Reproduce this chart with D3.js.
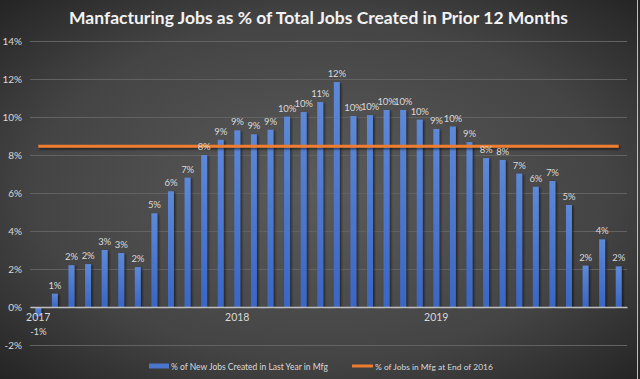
<!DOCTYPE html>
<html>
<head>
<meta charset="utf-8">
<script src="https://cdn.jsdelivr.net/npm/d3@7"></script>
<style>
  html, body { margin: 0; padding: 0; background: #2a2a2a; }
  svg { display: block; }
</style>
</head>
<body>
<svg id="chart" width="640" height="379"></svg>
<script>
// ---- data ----
const months = [
  "2017-01","2017-02","2017-03","2017-04","2017-05","2017-06","2017-07","2017-08","2017-09","2017-10","2017-11","2017-12",
  "2018-01","2018-02","2018-03","2018-04","2018-05","2018-06","2018-07","2018-08","2018-09","2018-10","2018-11","2018-12",
  "2019-01","2019-02","2019-03","2019-04","2019-05","2019-06","2019-07","2019-08","2019-09","2019-10","2019-11","2019-12"
];
const mfgShareNewJobs = [
  -0.5, 0.7, 2.2, 2.26, 3.0, 2.84, 2.1, 4.93, 6.09, 6.81, 8.0, 8.8,
  9.3, 9.09, 9.33, 10.02, 10.26, 10.79, 11.84, 10.05, 10.1, 10.37, 10.37, 9.86,
  9.37, 9.5, 8.68, 7.84, 7.74, 7.02, 6.33, 6.63, 5.37, 2.18, 3.56, 2.14
];
const mfgShareEnd2016 = 8.46;
const yTicks = [-2, 0, 2, 4, 6, 8, 10, 12, 14];
const xTickLabels = { "2017-01": "2017", "2018-01": "2018", "2019-01": "2019" };
const titleText = "Manfacturing Jobs as % of Total Jobs Created in Prior 12 Months";
const seriesNames = ["% of New Jobs Created in Last Year in Mfg", "% of Jobs in Mfg at End of 2016"];

// ---- layout ----
const W = 640, H = 379;
const plot = { left: 30, right: 627, top: 41, bottom: 345 };
const FONT = "Lato, 'Open Sans', sans-serif";
const txt = "#d9d9d9";

const svg = d3.select("#chart");
const defs = svg.append("defs");

const bg = defs.append("radialGradient").attr("id", "bg")
  .attr("cx", "50%").attr("cy", "50%").attr("r", "75%");
bg.append("stop").attr("offset", "0%").attr("stop-color", "#5b5b5b");
bg.append("stop").attr("offset", "60%").attr("stop-color", "#444444");
bg.append("stop").attr("offset", "100%").attr("stop-color", "#1f1f1f");

const barGrad = defs.append("linearGradient").attr("id", "barGrad")
  .attr("x1", "0").attr("y1", "0").attr("x2", "0").attr("y2", "1");
barGrad.append("stop").attr("offset", "0%").attr("stop-color", "#5d89d8");
barGrad.append("stop").attr("offset", "100%").attr("stop-color", "#3a66c4");

const shadow = defs.append("filter").attr("id", "shadow")
  .attr("x", "-50%").attr("y", "-10%").attr("width", "200%").attr("height", "120%");
shadow.append("feDropShadow").attr("dx", 1.5).attr("dy", 1).attr("stdDeviation", 0.8)
  .attr("flood-color", "#000").attr("flood-opacity", 0.55);

const lineShadow = defs.append("filter").attr("id", "lineShadow")
  .attr("filterUnits", "userSpaceOnUse")
  .attr("x", 0).attr("y", 0).attr("width", W).attr("height", H);
lineShadow.append("feDropShadow").attr("dx", 1).attr("dy", 1.5).attr("stdDeviation", 0.8)
  .attr("flood-color", "#000").attr("flood-opacity", 0.6);

svg.append("rect").attr("width", W).attr("height", H).attr("fill", "url(#bg)");
svg.append("line").attr("x1", W - 2.5).attr("x2", W - 2.5).attr("y1", 0).attr("y2", H)
  .attr("stroke", "#bfbfbf").attr("stroke-width", 1);

// ---- scales ----
const x = d3.scaleBand().domain(months).range([plot.left, plot.right])
  .paddingInner(0.64).paddingOuter(0.32);
const y = d3.scaleLinear().domain([-2, 14]).range([plot.bottom, plot.top]);

// gridlines
const yAxis = d3.axisLeft(y).tickValues(yTicks).tickSize(-(plot.right - plot.left))
  .tickFormat(d => d + "%").tickPadding(8);
const gy = svg.append("g").attr("transform", `translate(${plot.left},0)`).call(yAxis);
gy.select(".domain").remove();
gy.selectAll(".tick line").attr("stroke", "#626262").attr("stroke-width", 1);
gy.selectAll(".tick text").attr("fill", txt).attr("font-family", FONT).attr("font-size", 10);

// bars
const data = months.map((m, i) => ({ m, v: mfgShareNewJobs[i] }));
svg.append("g").selectAll("rect").data(data).join("rect")
  .attr("x", d => x(d.m))
  .attr("width", x.bandwidth())
  .attr("y", d => y(Math.max(0, d.v)))
  .attr("height", d => Math.abs(y(d.v) - y(0)))
  .attr("fill", "url(#barGrad)")
  .attr("filter", "url(#shadow)");

// zero axis line
const xAxis = d3.axisBottom(x).tickSize(0).tickPadding(7)
  .tickFormat(d => xTickLabels[d] || "");
const gx = svg.append("g").attr("transform", `translate(0,${y(0)})`).call(xAxis);
gx.select(".domain").attr("stroke", "#bfbfbf").attr("stroke-width", 1.5);
gx.selectAll(".tick text").attr("fill", txt).attr("font-family", FONT).attr("font-size", 10.5);

// reference line
const lineGen = d3.line().x(d => x(d) + x.bandwidth() / 2).y(() => y(mfgShareEnd2016));
svg.append("path").datum([months[0], months[months.length - 1]])
  .attr("d", lineGen).attr("stroke", "#ed7d31").attr("stroke-width", 3)
  .attr("fill", "none").attr("filter", "url(#lineShadow)");

// data labels
const fmt = v => (v < 0 ? "-" : "") + Math.round(Math.abs(v)) + "%";
svg.append("g").selectAll("text").data(data).join("text")
  .attr("x", d => x(d.m) + x.bandwidth() / 2)
  .attr("y", d => d.v >= 0 ? y(d.v) - 5 : y(d.v) + 18)
  .attr("text-anchor", "middle")
  .attr("fill", txt).attr("font-family", FONT).attr("font-size", 9.5)
  .attr("letter-spacing", -0.2)
  .text(d => fmt(d.v));

// title
const title = svg.append("text").attr("x", 318.5).attr("y", 24)
  .attr("text-anchor", "middle").attr("fill", "#f2f2f2")
  .attr("font-family", FONT).attr("font-weight", "bold").attr("font-size", 16)
  .text(titleText);
const tw = title.node().getComputedTextLength();
title.attr("font-size", 16 * 499 / tw);

// legend
const lg = svg.append("g");
lg.append("rect").attr("x", 149).attr("y", 363.5).attr("width", 20).attr("height", 5)
  .attr("fill", "#4a77cc");
const l1 = lg.append("text").attr("x", 171).attr("y", 369.5).attr("fill", txt)
  .attr("font-family", FONT).attr("font-size", 10).text(seriesNames[0]);
l1.attr("font-size", 10 * 157 / l1.node().getComputedTextLength());
lg.append("line").attr("x1", 352).attr("x2", 373).attr("y1", 366).attr("y2", 366)
  .attr("stroke", "#ed7d31").attr("stroke-width", 3);
const l2 = lg.append("text").attr("x", 375).attr("y", 369.5).attr("fill", txt)
  .attr("font-family", FONT).attr("font-size", 10).text(seriesNames[1]);
l2.attr("font-size", 10 * 118 / l2.node().getComputedTextLength());
</script>
</body>
</html>
